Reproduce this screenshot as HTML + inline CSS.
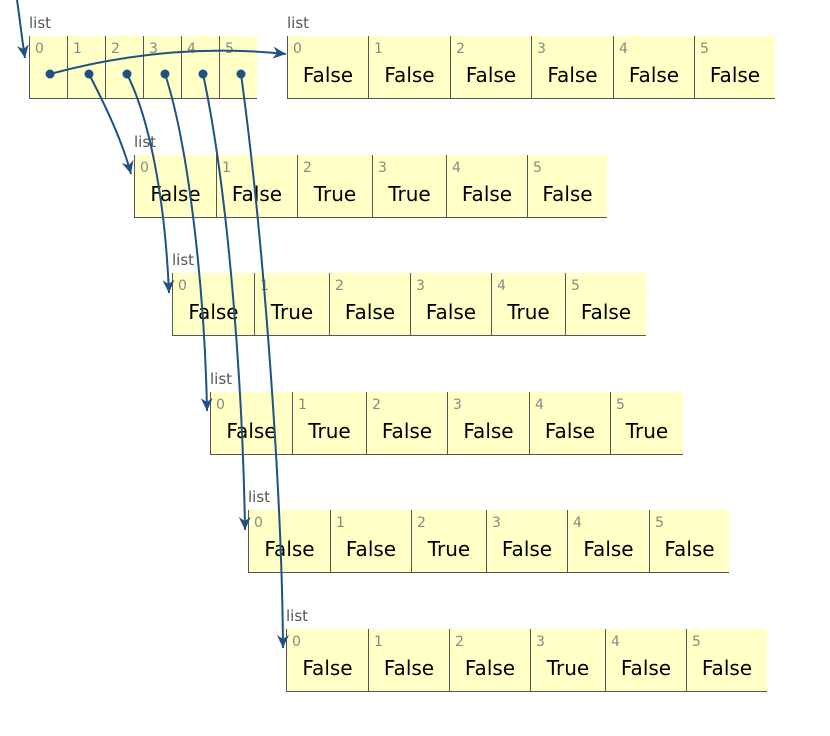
<!DOCTYPE html>
<html><head><meta charset="utf-8"><style>
body{margin:0;width:830px;height:736px;background:#fff;position:relative;overflow:hidden;font-family:"DejaVu Sans","Liberation Sans",sans-serif}
.l{position:absolute;font-size:15px;color:#555}
.c{position:absolute;background:#ffffc6;border-left:1px solid #555;border-bottom:1px solid #555;box-sizing:border-box;height:63px}
.i{position:absolute;left:5px;top:5px;font-size:14px;color:#888}
.v{position:absolute;left:0;right:0;top:27px;text-align:center;font-size:20px;color:#000}
svg{position:absolute;left:0;top:0}
</style></head><body>
<div id="d"></div>
<svg width="830" height="736">
<defs><marker id="a" markerWidth="14" markerHeight="14" refX="13" refY="6" orient="auto" markerUnits="userSpaceOnUse"><path d="M0,0 L13,6 L0,12 L4,6 z" fill="#1f5282"/></marker></defs>
<g stroke="#1f5282" stroke-width="2" fill="none" marker-end="url(#a)">
<path d="M17,0 C20,20 22,40 25,58"/>
<path d="M50,74 C120,55 200,45 286,54"/>
<path d="M89,74 C105,105 122,140 131,174"/>
<path d="M127,74 C150,120 165,200 169,293"/>
<path d="M165,74 C190,150 205,300 207,411"/>
<path d="M203,74 C230,200 243,400 245,530"/>
<path d="M241,74 C265,250 282,500 283,648"/>
</g>
<g fill="#1f5282"><circle cx="50" cy="74" r="4.5"/><circle cx="89" cy="74" r="4.5"/><circle cx="127" cy="74" r="4.5"/><circle cx="165" cy="74" r="4.5"/><circle cx="203" cy="74" r="4.5"/><circle cx="241" cy="74" r="4.5"/></g>
</svg>
<script>
var rows=[
[287,36,[287,368,450,531,613,694,775],["False","False","False","False","False","False"]],
[134,155,[134,216,297,372,446,527,607],["False","False","True","True","False","False"]],
[172,273,[172,254,329,410,491,565,646],["False","True","False","False","True","False"]],
[210,392,[210,292,366,447,529,610,683],["False","True","False","False","False","True"]],
[248,510,[248,330,411,486,567,649,729],["False","False","True","False","False","False"]],
[286,629,[286,368,449,530,605,686,767],["False","False","False","True","False","False"]]];
var h='<div class="l" style="left:29px;top:14px">list</div>';
for(var k=0;k<6;k++)h+='<div class="c" style="left:'+(29+38*k)+'px;top:36px;width:38px"><span class="i">'+k+'</span></div>';
rows.forEach(function(r){h+='<div class="l" style="left:'+r[0]+'px;top:'+(r[1]-22)+'px">list</div>';
for(var k=0;k<6;k++)h+='<div class="c" style="left:'+r[2][k]+'px;top:'+r[1]+'px;width:'+(r[2][k+1]-r[2][k])+'px"><span class="i">'+k+'</span><div class="v">'+r[3][k]+'</div></div>';});
document.getElementById('d').innerHTML=h;
</script>
</body></html>
